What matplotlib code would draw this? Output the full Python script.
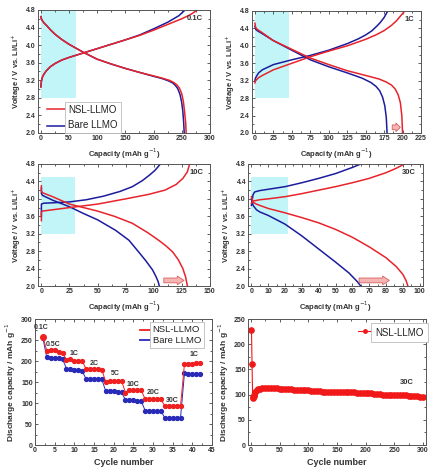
import matplotlib
matplotlib.use("Agg")
import matplotlib.pyplot as plt
import numpy as np
from matplotlib.patches import FancyArrow, Rectangle
from matplotlib.ticker import MultipleLocator, AutoMinorLocator

plt.rcParams['font.family'] = ['Liberation Sans', 'DejaVu Sans']

RED = '#e8232b'
BLUE = '#1c1c9c'
CYAN = '#c2f5f8'

# ---- voltage profiles (capacity mAh/g, voltage V) ----
# 0.1C
c01_nsl_chg_x = [0, 0.5, 1, 3, 6, 10, 17, 25, 37, 50, 75, 100, 125, 150, 175, 200, 225, 250, 265, 278]
c01_nsl_chg_y = [3.05, 3.12, 3.18, 3.28, 3.35, 3.42, 3.51, 3.58, 3.66, 3.72, 3.82, 3.92, 4.02, 4.12, 4.22, 4.34, 4.47, 4.6, 4.69, 4.8]
c01_bare_chg_x = [0, 0.5, 1, 3, 6, 10, 17, 25, 37, 50, 75, 100, 125, 150, 175, 200, 225, 245, 256]
c01_bare_chg_y = [3.05, 3.12, 3.18, 3.28, 3.35, 3.42, 3.51, 3.58, 3.66, 3.72, 3.82, 3.92, 4.02, 4.12, 4.23, 4.37, 4.52, 4.67, 4.8]
c01_nsl_dis_x = [0, 1, 3, 6, 10, 17, 25, 37, 50, 75, 100, 125, 150, 175, 200, 215, 228, 236, 242, 246, 250, 253, 255, 257, 258]
c01_nsl_dis_y = [4.65, 4.6, 4.55, 4.5, 4.45, 4.35, 4.25, 4.13, 4.02, 3.84, 3.68, 3.57, 3.47, 3.38, 3.3, 3.25, 3.2, 3.15, 3.09, 3.02, 2.9, 2.72, 2.5, 2.25, 2.0]
c01_bare_dis_x = [0, 1, 3, 6, 10, 17, 25, 37, 50, 75, 100, 125, 150, 175, 200, 215, 226, 234, 239, 243, 247, 250, 252, 253.5, 254.5]
c01_bare_dis_y = [4.65, 4.6, 4.55, 4.5, 4.45, 4.35, 4.25, 4.13, 4.02, 3.84, 3.68, 3.57, 3.47, 3.38, 3.29, 3.24, 3.19, 3.14, 3.08, 3.01, 2.88, 2.7, 2.5, 2.25, 2.0]

# 1C
c1_nsl_chg_x = [0, 0.5, 2, 5, 10, 25, 50, 75, 100, 125, 150, 165, 175, 185, 192, 198, 203]
c1_nsl_chg_y = [3.15, 3.19, 3.22, 3.27, 3.32, 3.45, 3.6, 3.75, 3.88, 4.0, 4.15, 4.26, 4.35, 4.47, 4.58, 4.7, 4.8]
c1_bare_chg_x = [0, 0.5, 2, 5, 10, 25, 50, 75, 100, 125, 140, 150, 158, 165, 170, 175, 180]
c1_bare_chg_y = [3.2, 3.25, 3.3, 3.38, 3.45, 3.57, 3.68, 3.78, 3.9, 4.05, 4.16, 4.25, 4.34, 4.45, 4.54, 4.65, 4.8]
c1_nsl_dis_x = [0, 1, 3, 10, 25, 50, 75, 100, 125, 150, 168, 178, 185, 190, 194, 197, 199, 200]
c1_nsl_dis_y = [4.52, 4.42, 4.38, 4.3, 4.12, 3.92, 3.72, 3.57, 3.43, 3.32, 3.24, 3.17, 3.1, 3.01, 2.88, 2.7, 2.4, 2.0]
c1_bare_dis_x = [0, 1, 3, 10, 25, 50, 75, 100, 125, 145, 157, 164, 169, 173, 176, 178, 179]
c1_bare_dis_y = [4.45, 4.38, 4.35, 4.28, 4.12, 3.9, 3.68, 3.52, 3.38, 3.26, 3.16, 3.07, 2.97, 2.82, 2.62, 2.35, 2.0]

# 10C
c10_nsl_chg_x = [0, 0, 1, 10, 25, 50, 75, 95, 110, 120, 126, 130, 132]
c10_nsl_chg_y = [3.5, 3.7, 3.72, 3.75, 3.8, 3.88, 4.0, 4.1, 4.2, 4.33, 4.47, 4.62, 4.8]
c10_bare_chg_x = [0, 0, 2, 10, 25, 40, 55, 70, 81, 90, 96, 101, 106]
c10_bare_chg_y = [3.6, 3.88, 3.9, 3.91, 3.93, 3.98, 4.06, 4.17, 4.28, 4.42, 4.54, 4.65, 4.8]
c10_nsl_dis_x = [0, 0, 1, 10, 25, 50, 65, 81, 95, 105, 111, 117, 122, 126, 128.5, 130]
c10_nsl_dis_y = [4.3, 4.18, 4.14, 4.05, 3.88, 3.72, 3.6, 3.44, 3.22, 3.04, 2.92, 2.78, 2.6, 2.4, 2.2, 2.0]
c10_bare_dis_x = [0, 0, 1, 10, 25, 37, 50, 66, 78, 87, 93, 99, 102, 104, 105]
c10_bare_dis_y = [4.25, 4.12, 4.08, 3.97, 3.82, 3.67, 3.52, 3.28, 3.05, 2.77, 2.58, 2.37, 2.22, 2.1, 2.0]

# 30C
c30_nsl_chg_x = [0, 1, 5, 10, 20, 30, 40, 50, 60, 70, 80, 86, 91]
c30_nsl_chg_y = [3.9, 3.95, 3.98, 4.0, 4.05, 4.12, 4.2, 4.28, 4.37, 4.47, 4.6, 4.7, 4.8]
c30_bare_chg_x = [0, 1, 2, 5, 10, 20, 30, 40, 50, 60, 65]
c30_bare_chg_y = [3.85, 4.1, 4.16, 4.19, 4.22, 4.28, 4.37, 4.47, 4.58, 4.72, 4.8]
c30_nsl_dis_x = [0, 1, 3, 5, 10, 20, 30, 40, 50, 60, 70, 80, 86, 90, 92, 93]
c30_nsl_dis_y = [4.05, 3.92, 3.88, 3.85, 3.78, 3.68, 3.57, 3.45, 3.3, 3.12, 2.9, 2.65, 2.45, 2.27, 2.12, 2.0]
c30_bare_dis_x = [0, 1, 3, 5, 10, 20, 30, 40, 50, 58, 63, 65]
c30_bare_dis_y = [4.0, 3.85, 3.75, 3.7, 3.62, 3.42, 3.15, 2.85, 2.55, 2.3, 2.1, 2.0]

# ---- rate capability ----
rate_cycles = list(range(2, 43))
rate_nsl = [258, 225, 226, 226, 222, 220, 203, 204, 201, 200, 200,
            181, 181, 180, 180, 179, 150, 153, 153, 153, 153,
            125, 131, 131, 131, 131, 109, 109, 109, 109, 109,
            93, 93, 93, 93, 93, 193, 193, 194, 195, 195]
rate_bare = [255, 209, 207, 206, 206, 205, 182, 181, 179, 178, 176,
             157, 157, 156, 156, 156, 128, 128, 128, 127, 126,
             107, 106, 106, 105, 105, 82, 82, 82, 82, 81,
             65, 65, 65, 65, 65, 171, 170, 170, 168, 168]
rate_labels = ['0.1C', '0.5C', '1C', '2C', '5C', '10C', '20C', '30C', '1C']
rate_label_x = [1.5, 4.5, 10, 15, 20.5, 25, 30, 35, 40.5]
rate_label_y = [280, 240, 218, 195, 170, 145, 124, 107, 215]

# ---- long cycling at 30C ----
cyc_n = [1, 2, 3, 4, 5, 6, 8, 10, 12, 15, 20, 25, 30, 35, 40, 45, 50, 55, 60, 65,
         70, 75, 80, 85, 90, 95, 100, 105, 110, 115, 120, 125, 130, 135, 140, 145,
         150, 155, 160, 165, 170, 175, 180, 185, 190, 195, 200, 205, 210, 215, 220,
         225, 230, 235, 240, 245, 250, 255, 260, 265, 270, 275, 280, 285, 290, 295, 300]
cyc_cap = [228, 160, 95, 94, 97, 100, 105, 109, 111, 112, 113, 114, 114, 114, 113, 113, 112, 112, 111, 111,
           111, 110, 110, 110, 109, 109, 109, 108, 108, 107, 107, 106, 106, 105, 105, 106,
           106, 106, 106, 106, 105, 105, 105, 104, 104, 104, 104, 103, 103, 102, 102,
           101, 100, 100, 100, 100, 100, 99, 99, 99, 99, 98, 98, 97, 97, 96, 96]

fig = plt.figure(figsize=(4.39, 4.76), dpi=100)

TICK_FS = 5
LAB_FS = 5.5


def style_axes(ax, xmaj, ymaj):
    ax.xaxis.set_major_locator(MultipleLocator(xmaj))
    ax.yaxis.set_major_locator(MultipleLocator(ymaj))
    ax.xaxis.set_minor_locator(AutoMinorLocator(2))
    ax.yaxis.set_minor_locator(AutoMinorLocator(2))
    ax.tick_params(which='both', direction='in', top=True, right=True,
                   labelsize=TICK_FS, width=0.6, colors='#444444', labelcolor='#333333')
    ax.tick_params(which='major', length=2.5, pad=1.5)
    ax.tick_params(which='minor', length=1.5)
    for lab in ax.get_xticklabels() + ax.get_yticklabels():
        lab.set_fontweight('bold')
    for s in ax.spines.values():
        s.set_linewidth(0.7)
        s.set_color('#555555')


def voltage_panel(rect, xmax, xmaj, box, curves, tag, arrow=None):
    ax = fig.add_axes(rect)
    ax.add_patch(Rectangle((0, box[1]), box[0], box[2] - box[1], color=CYAN, zorder=0, lw=0))
    for xs, ys, col in curves:
        ax.plot(xs, ys, color=col, lw=1.1, solid_joinstyle='round')
    ax.set_xlim(-xmax * 0.02, xmax)
    ax.set_ylim(2.0, 4.8)
    style_axes(ax, xmaj, 0.4)
    ax.set_xlabel('Capacity (mAh g$^{-1}$)', fontsize=LAB_FS, fontweight='bold', color='#333333', labelpad=3)
    ax.set_ylabel('Voltage / V vs. Li/Li$^{+}$', fontsize=LAB_FS, fontweight='bold', color='#333333', labelpad=2)
    ax.text(0.96, 0.93, tag, transform=ax.transAxes, ha='right', va='center',
            fontsize=5.5, fontweight='bold', color='#333333')
    if arrow is not None:
        x0, x1, hl = arrow
        ax.add_patch(FancyArrow(x0, 2.13, x1 - x0, 0, width=0.11, head_width=0.2,
                                head_length=hl, length_includes_head=True,
                                fc='#f5b5b5', ec='#d96060', lw=0.6, zorder=3))
    return ax


ax1 = voltage_panel([0.0866, 0.7206, 0.3914, 0.2584], 300, 50, (62, 2.8, 4.8),
                    [(c01_bare_chg_x, c01_bare_chg_y, BLUE), (c01_bare_dis_x, c01_bare_dis_y, BLUE),
                     (c01_nsl_chg_x, c01_nsl_chg_y, RED), (c01_nsl_dis_x, c01_nsl_dis_y, RED)], '0.1C')
ax1.set_xlim(-5, 300)
# legend drawn like the original (handles outside the text box)
ax1.plot([0.052, 0.157], [0.195, 0.195], color=RED, lw=1.1, transform=ax1.transAxes)
ax1.plot([0.052, 0.157], [0.057, 0.057], color=BLUE, lw=1.1, transform=ax1.transAxes)
ax1.text(0.175, 0.126, 'NSL-LLMO\nBare LLMO', transform=ax1.transAxes, ha='left', va='center',
         fontsize=7, linespacing=1.7, color='#222222',
         bbox=dict(boxstyle='square,pad=0.3', fc='white', ec='#bbbbbb', lw=0.6))

ax2 = voltage_panel([0.574, 0.7206, 0.385, 0.2563], 225, 25, (46, 2.8, 4.8),
                    [(c1_bare_chg_x, c1_bare_chg_y, BLUE), (c1_bare_dis_x, c1_bare_dis_y, BLUE),
                     (c1_nsl_chg_x, c1_nsl_chg_y, RED), (c1_nsl_dis_x, c1_nsl_dis_y, RED)], '1C',
                    arrow=(186, 197, 6))
ax2.set_xlim(-4, 225)

ax3 = voltage_panel([0.0866, 0.399, 0.3914, 0.2565], 150, 25, (30, 3.2, 4.5),
                    [(c10_bare_chg_x, c10_bare_chg_y, BLUE), (c10_bare_dis_x, c10_bare_dis_y, BLUE),
                     (c10_nsl_chg_x, c10_nsl_chg_y, RED), (c10_nsl_dis_x, c10_nsl_dis_y, RED)], '10C',
                    arrow=(109, 127, 6))
ax3.set_xlim(-3, 150)

ax4 = voltage_panel([0.565, 0.399, 0.3986, 0.2565], 100, 10, (22, 3.2, 4.5),
                    [(c30_bare_chg_x, c30_bare_chg_y, BLUE), (c30_bare_dis_x, c30_bare_dis_y, BLUE),
                     (c30_nsl_chg_x, c30_nsl_chg_y, RED), (c30_nsl_dis_x, c30_nsl_dis_y, RED)], '30C',
                    arrow=(64, 82, 4))
ax4.set_xlim(-2, 102)

# ---- rate capability panel ----
ax5 = fig.add_axes([0.0797, 0.0651, 0.4032, 0.2647])
ax5.plot(rate_cycles, rate_bare, color='#2a2ab8', lw=0.7, marker='o', ms=2.8, mec='#2a2ab8')
ax5.plot(rate_cycles, rate_nsl, color='#f02020', lw=0.7, marker='o', ms=2.8, mec='#f02020')
ax5.plot([2], [258], 'o', color='#f02020', ms=4)
ax5.set_xlim(0, 45)
ax5.set_ylim(0, 300)
style_axes(ax5, 5, 50)
for t, x, y in zip(rate_labels, rate_label_x, rate_label_y):
    ax5.text(x, y, t, ha='center', va='center', fontsize=5, fontweight='bold', color='#333333')
ax5.set_xlabel('Cycle number', fontsize=6.5, fontweight='bold', color='#333333', labelpad=3)
ax5.set_ylabel('Discharge capacity / mAh g$^{-1}$', fontsize=6, fontweight='bold', color='#333333', labelpad=2)
ax5.plot([0.593, 0.65], [0.913, 0.913], color='#f02020', lw=1.3, transform=ax5.transAxes)
ax5.plot([0.593, 0.65], [0.833, 0.833], color='#2a2ab8', lw=1.3, transform=ax5.transAxes)
ax5.text(0.665, 0.873, 'NSL-LLMO\nBare LLMO', transform=ax5.transAxes, ha='left', va='center',
         fontsize=6.8, linespacing=1.4, color='#222222',
         bbox=dict(boxstyle='square,pad=0.3', fc='white', ec='#bbbbbb', lw=0.6))

# ---- long cycling panel ----
ax6 = fig.add_axes([0.565, 0.0651, 0.405, 0.2647])
ax6.plot(cyc_n, cyc_cap, color='#f01818', lw=0.8, marker='o', ms=3.8, mec='#f01818')
ax6.set_xlim(-5, 305)
ax6.set_ylim(0, 250)
style_axes(ax6, 50, 50)
ax6.text(272, 125, '30C', ha='center', va='center', fontsize=5.5, fontweight='bold', color='#333333')
ax6.set_xlabel('Cycle number', fontsize=6.5, fontweight='bold', color='#333333', labelpad=3)
ax6.set_ylabel('Discharge capacity / mAh g$^{-1}$', fontsize=6, fontweight='bold', color='#333333', labelpad=2)
ax6.plot([0.618, 0.697], [0.905, 0.905], color='#f01818', lw=0.8, transform=ax6.transAxes)
ax6.plot([0.657], [0.905], 'o', color='#f01818', ms=2.5, transform=ax6.transAxes)
ax6.text(0.715, 0.89, 'NSL-LLMO', transform=ax6.transAxes, ha='left', va='center',
         fontsize=7, color='#222222',
         bbox=dict(boxstyle='square,pad=0.45', fc='white', ec='#bbbbbb', lw=0.6))

fig.savefig('out.png', dpi=100)
